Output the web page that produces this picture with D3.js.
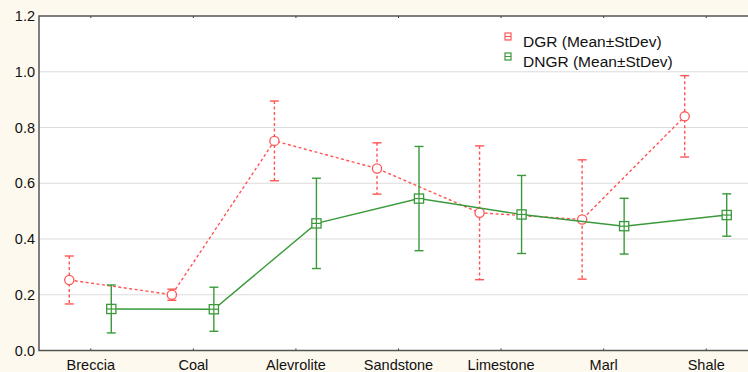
<!DOCTYPE html>
<html><head><meta charset="utf-8">
<script src="https://cdn.jsdelivr.net/npm/d3@7"></script>
<style>body{margin:0;background:#fdf9ee;}svg{display:block;font-family:"Liberation Sans",Arial,sans-serif;}</style>
</head><body><svg id="c" width="748" height="372"></svg>
<script>
const categories = ["Breccia","Coal","Alevrolite","Sandstone","Limestone","Marl","Shale"];
const dgrMean = [0.253,0.200,0.752,0.653,0.494,0.470,0.840];
const dgrSd   = [0.086,0.020,0.143,0.092,0.240,0.214,0.146];
const dngrMean = [0.149,0.148,0.456,0.545,0.488,0.446,0.486];
const dngrSd   = [0.086,0.079,0.162,0.187,0.140,0.100,0.076];
const yTicks = [0.0,0.2,0.4,0.6,0.8,1.0,1.2];
const legendLabels = ["DGR (Mean±StDev)","DNGR (Mean±StDev)"];

const svg = d3.select("#c");
const L=39, T=16, R=757, B=350.5;
svg.append("rect").attr("width",748).attr("height",372).attr("fill","#fdf9ee");
svg.append("rect").attr("x",L).attr("y",T).attr("width",R-L).attr("height",B-T).attr("fill","#fff");

const x = d3.scalePoint().domain(categories).range([L,R]).padding(0.5);
const y = d3.scaleLinear().domain([0,1.2]).range([B,T]);

// grid
svg.append("g").selectAll("line").data(yTicks.filter(d=>d>0&&d<1.2)).join("line")
  .attr("x1",L).attr("x2",R).attr("y1",d=>y(d)).attr("y2",d=>y(d))
  .attr("stroke","#dcdcdc").attr("stroke-width",1.2);

// axes
const ax = svg.append("g").attr("transform",`translate(0,${B})`)
  .call(d3.axisBottom(x).tickSize(2).tickSizeOuter(0));
ax.selectAll("text").attr("font-size",14.5).attr("fill","#111").attr("dy","0.9em").attr("y",6);
ax.selectAll("line").attr("stroke","#333").attr("transform","translate(0,-2)");
const axT = svg.append("g").attr("transform",`translate(0,${T})`)
  .call(d3.axisBottom(x).tickSize(2).tickSizeOuter(0).tickFormat(""));
axT.selectAll("line").attr("stroke","#333");
const ay = svg.append("g").attr("transform",`translate(${L},0)`)
  .call(d3.axisLeft(y).tickValues(yTicks).tickFormat(d3.format(".1f")).tickSize(0).tickPadding(4));
ay.selectAll("text").attr("font-size",14.5).attr("fill","#111");
svg.selectAll(".domain").remove();
svg.append("path").attr("d",`M${R},${T}H${L}V${B}H${R}`).attr("fill","none").attr("stroke","#555").attr("stroke-width",1.5);

const red="#ff5555", green="#3a9a3a";
function series(mean, sd, off, color, dash, marker){
  const g = svg.append("g");
  const pts = categories.map((c,i)=>({x:x(c)+off, m:mean[i], s:sd[i]}));
  g.append("path").datum(pts).attr("fill","none").attr("stroke",color).attr("stroke-width",1.4)
    .attr("stroke-dasharray",dash).attr("d",d3.line().x(d=>d.x).y(d=>y(d.m)));
  const e = g.selectAll(".e").data(pts).join("g");
  e.append("line").attr("x1",d=>d.x).attr("x2",d=>d.x).attr("y1",d=>y(d.m+d.s)).attr("y2",d=>y(d.m-d.s))
    .attr("stroke",color).attr("stroke-width",1.4).attr("stroke-dasharray",dash);
  [1,-1].forEach(k=>e.append("line").attr("x1",d=>d.x-4.5).attr("x2",d=>d.x+4.5)
    .attr("y1",d=>y(d.m+k*d.s)).attr("y2",d=>y(d.m+k*d.s)).attr("stroke",color).attr("stroke-width",1.4));
  if(marker==="circle"){
    e.append("circle").attr("cx",d=>d.x).attr("cy",d=>y(d.m)).attr("r",4.6)
      .attr("fill","#fff").attr("stroke",color).attr("stroke-width",1.3);
  } else {
    e.append("rect").attr("x",d=>d.x-4.6).attr("y",d=>y(d.m)-4.6).attr("width",9.2).attr("height",9.2)
      .attr("fill","#fff").attr("stroke",color).attr("stroke-width",1.3);
    e.append("line").attr("x1",d=>d.x).attr("x2",d=>d.x).attr("y1",d=>y(d.m)-4.6).attr("y2",d=>y(d.m)+4.6).attr("stroke",color).attr("stroke-width",1.2);
    e.append("line").attr("x1",d=>d.x-4.6).attr("x2",d=>d.x+4.6).attr("y1",d=>y(d.m)).attr("y2",d=>y(d.m)).attr("stroke",color).attr("stroke-width",1.2);
  }
}
series(dgrMean,dgrSd,-21,red,"3,2.5","circle");
series(dngrMean,dngrSd,21,green,null,"square");

// legend
const lg = svg.append("g");
[red,green].forEach((col,i)=>{
  const yy = 42 + i*20;
  lg.append("rect").attr("x",505).attr("y",yy-9).attr("width",6).attr("height",7)
    .attr("fill","none").attr("stroke",col).attr("stroke-width",1.2);
  lg.append("line").attr("x1",505).attr("x2",511).attr("y1",yy-5.5).attr("y2",yy-5.5).attr("stroke",col);
  lg.append("text").attr("x",523).attr("y",yy+5).attr("font-size",15.5).attr("fill","#111").text(legendLabels[i]);
});
</script></body></html>
